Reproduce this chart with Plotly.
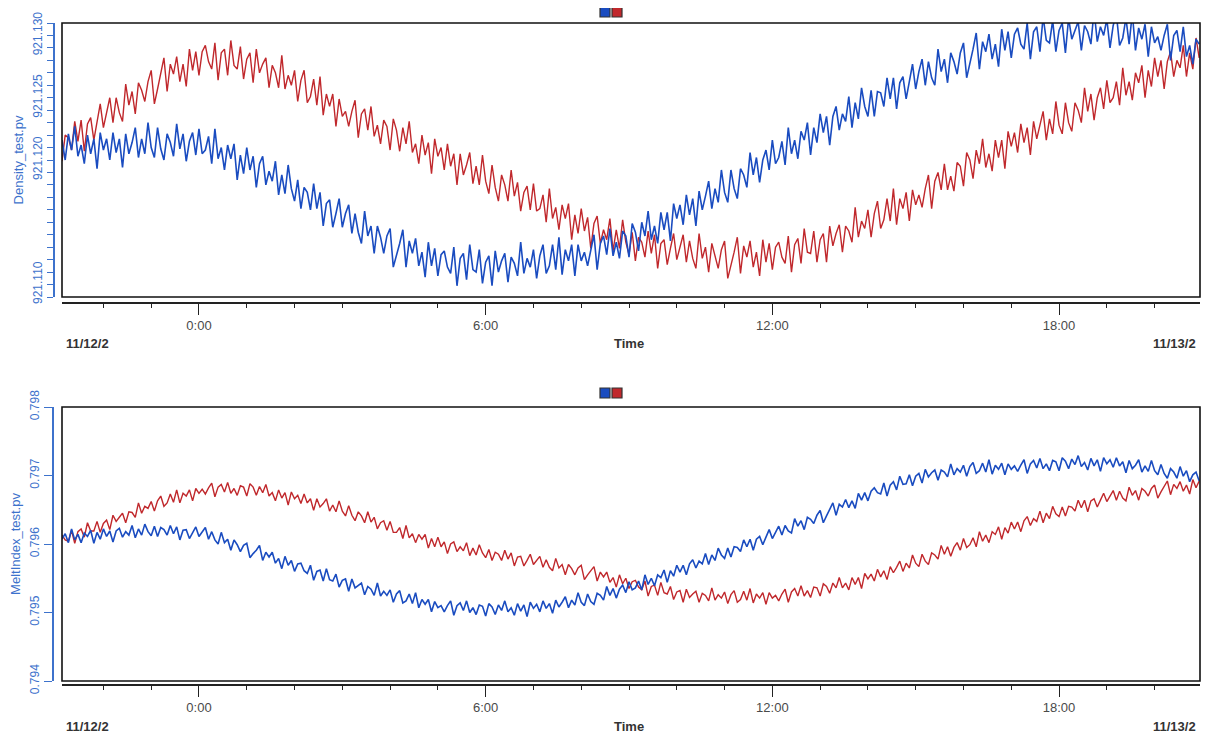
import pandas as pd
import plotly.graph_objects as go

# ---------------- data ----------------
start_time = "2021-11-12 21:08"
sample_minutes = 4
x_range = ["2021-11-12 21:08", "2021-11-13 20:57"]

density_blue = [
    921.1216, 921.1200, 921.1221, 921.1208, 921.1227, 921.1203, 921.1212, 921.1197, 921.1220, 921.1205, 921.1217, 921.1193, 921.1222, 921.1208, 921.1217,
    921.1200, 921.1222, 921.1206, 921.1217, 921.1194, 921.1221, 921.1205, 921.1214, 921.1226, 921.1202, 921.1217, 921.1205, 921.1230, 921.1210, 921.1202,
    921.1226, 921.1209, 921.1200, 921.1221, 921.1214, 921.1203, 921.1229, 921.1209, 921.1221, 921.1199, 921.1215, 921.1222, 921.1204, 921.1225, 921.1205,
    921.1208, 921.1219, 921.1197, 921.1225, 921.1201, 921.1210, 921.1192, 921.1212, 921.1201, 921.1213, 921.1184, 921.1204, 921.1189, 921.1210, 921.1192,
    921.1203, 921.1178, 921.1197, 921.1203, 921.1180, 921.1191, 921.1183, 921.1199, 921.1172, 921.1188, 921.1173, 921.1196, 921.1177, 921.1167, 921.1184,
    921.1161, 921.1178, 921.1174, 921.1160, 921.1181, 921.1161, 921.1174, 921.1147, 921.1165, 921.1168, 921.1146, 921.1157, 921.1169, 921.1146, 921.1157,
    921.1164, 921.1141, 921.1157, 921.1142, 921.1133, 921.1159, 921.1139, 921.1147, 921.1125, 921.1147, 921.1138, 921.1125, 921.1139, 921.1145, 921.1114,
    921.1123, 921.1133, 921.1144, 921.1114, 921.1135, 921.1125, 921.1137, 921.1115, 921.1126, 921.1106, 921.1134, 921.1115, 921.1129, 921.1107, 921.1124,
    921.1127, 921.1114, 921.1109, 921.1130, 921.1099, 921.1121, 921.1125, 921.1104, 921.1132, 921.1112, 921.1110, 921.1128, 921.1101, 921.1118, 921.1123,
    921.1099, 921.1127, 921.1110, 921.1119, 921.1125, 921.1102, 921.1122, 921.1117, 921.1107, 921.1134, 921.1109, 921.1121, 921.1114, 921.1128, 921.1105,
    921.1123, 921.1132, 921.1109, 921.1115, 921.1132, 921.1112, 921.1138, 921.1108, 921.1128, 921.1119, 921.1132, 921.1107, 921.1132, 921.1119, 921.1126,
    921.1115, 921.1129, 921.1140, 921.1112, 921.1133, 921.1139, 921.1124, 921.1145, 921.1123, 921.1134, 921.1121, 921.1143, 921.1139, 921.1122, 921.1149,
    921.1142, 921.1127, 921.1150, 921.1139, 921.1159, 921.1136, 921.1147, 921.1133, 921.1158, 921.1144, 921.1158, 921.1135, 921.1165, 921.1153, 921.1164,
    921.1148, 921.1172, 921.1156, 921.1169, 921.1147, 921.1175, 921.1160, 921.1171, 921.1183, 921.1161, 921.1177, 921.1166, 921.1192, 921.1174, 921.1166,
    921.1192, 921.1177, 921.1169, 921.1193, 921.1188, 921.1178, 921.1206, 921.1188, 921.1202, 921.1182, 921.1200, 921.1208, 921.1192, 921.1216, 921.1197,
    921.1202, 921.1215, 921.1196, 921.1226, 921.1205, 921.1216, 921.1201, 921.1223, 921.1216, 921.1230, 921.1204, 921.1226, 921.1214, 921.1237, 921.1222,
    921.1235, 921.1212, 921.1235, 921.1243, 921.1224, 921.1237, 921.1231, 921.1251, 921.1226, 921.1246, 921.1233, 921.1258, 921.1243, 921.1235, 921.1256,
    921.1235, 921.1255, 921.1254, 921.1243, 921.1266, 921.1249, 921.1266, 921.1241, 921.1262, 921.1267, 921.1249, 921.1263, 921.1277, 921.1257, 921.1271,
    921.1281, 921.1260, 921.1279, 921.1266, 921.1260, 921.1289, 921.1271, 921.1281, 921.1262, 921.1286, 921.1279, 921.1269, 921.1286, 921.1294, 921.1266,
    921.1277, 921.1289, 921.1302, 921.1273, 921.1295, 921.1287, 921.1301, 921.1281, 921.1293, 921.1275, 921.1305, 921.1288, 921.1303, 921.1282, 921.1301,
    921.1306, 921.1293, 921.1289, 921.1310, 921.1281, 921.1303, 921.1307, 921.1287, 921.1315, 921.1296, 921.1294, 921.1312, 921.1287, 921.1304, 921.1310,
    921.1286, 921.1314, 921.1297, 921.1305, 921.1311, 921.1288, 921.1308, 921.1303, 921.1293, 921.1320, 921.1295, 921.1307, 921.1300, 921.1313, 921.1290,
    921.1308, 921.1317, 921.1292, 921.1298, 921.1314, 921.1293, 921.1318, 921.1288, 921.1306, 921.1297, 921.1309, 921.1283, 921.1307, 921.1294, 921.1299,
    921.1288, 921.1300, 921.1309, 921.1280, 921.1300, 921.1304, 921.1287, 921.1307, 921.1283, 921.1292, 921.1277, 921.1297, 921.1293,
]

density_red = [
    921.1199, 921.1220, 921.1218, 921.1208, 921.1231, 921.1215, 921.1232, 921.1207, 921.1229, 921.1234, 921.1216, 921.1231, 921.1245, 921.1226, 921.1239,
    921.1250, 921.1230, 921.1250, 921.1238, 921.1231, 921.1261, 921.1244, 921.1255, 921.1237, 921.1262, 921.1256, 921.1247, 921.1263, 921.1272, 921.1245,
    921.1257, 921.1269, 921.1282, 921.1255, 921.1277, 921.1269, 921.1283, 921.1263, 921.1277, 921.1259, 921.1289, 921.1272, 921.1287, 921.1268, 921.1287,
    921.1292, 921.1279, 921.1273, 921.1294, 921.1264, 921.1286, 921.1289, 921.1268, 921.1296, 921.1276, 921.1273, 921.1291, 921.1265, 921.1281, 921.1286,
    921.1262, 921.1289, 921.1270, 921.1277, 921.1282, 921.1258, 921.1276, 921.1270, 921.1258, 921.1284, 921.1257, 921.1268, 921.1260, 921.1272, 921.1247,
    921.1264, 921.1272, 921.1246, 921.1251, 921.1265, 921.1244, 921.1267, 921.1236, 921.1253, 921.1243, 921.1253, 921.1227, 921.1249, 921.1235, 921.1239,
    921.1227, 921.1239, 921.1248, 921.1218, 921.1237, 921.1241, 921.1224, 921.1243, 921.1219, 921.1228, 921.1213, 921.1232, 921.1227, 921.1208, 921.1233,
    921.1224, 921.1207, 921.1226, 921.1213, 921.1231, 921.1206, 921.1213, 921.1197, 921.1220, 921.1204, 921.1214, 921.1189, 921.1217, 921.1203, 921.1210,
    921.1192, 921.1213, 921.1195, 921.1205, 921.1180, 921.1205, 921.1188, 921.1196, 921.1206, 921.1181, 921.1195, 921.1180, 921.1204, 921.1183, 921.1173,
    921.1196, 921.1178, 921.1167, 921.1188, 921.1180, 921.1167, 921.1192, 921.1171, 921.1182, 921.1159, 921.1174, 921.1179, 921.1160, 921.1181, 921.1159,
    921.1161, 921.1172, 921.1150, 921.1177, 921.1153, 921.1162, 921.1144, 921.1164, 921.1153, 921.1165, 921.1136, 921.1156, 921.1141, 921.1161, 921.1143,
    921.1154, 921.1129, 921.1149, 921.1155, 921.1133, 921.1144, 921.1136, 921.1153, 921.1127, 921.1144, 921.1129, 921.1152, 921.1134, 921.1124, 921.1142,
    921.1119, 921.1138, 921.1134, 921.1122, 921.1143, 921.1125, 921.1140, 921.1113, 921.1133, 921.1136, 921.1116, 921.1129, 921.1141, 921.1120, 921.1131,
    921.1140, 921.1118, 921.1135, 921.1121, 921.1113, 921.1141, 921.1121, 921.1130, 921.1110, 921.1133, 921.1124, 921.1113, 921.1128, 921.1135, 921.1105,
    921.1115, 921.1126, 921.1138, 921.1109, 921.1131, 921.1122, 921.1135, 921.1114, 921.1126, 921.1107, 921.1136, 921.1118, 921.1133, 921.1112, 921.1130,
    921.1134, 921.1122, 921.1117, 921.1139, 921.1110, 921.1132, 921.1137, 921.1117, 921.1145, 921.1126, 921.1125, 921.1143, 921.1118, 921.1136, 921.1141,
    921.1118, 921.1147, 921.1131, 921.1141, 921.1148, 921.1126, 921.1147, 921.1143, 921.1134, 921.1162, 921.1138, 921.1151, 921.1145, 921.1160, 921.1138,
    921.1157, 921.1167, 921.1145, 921.1152, 921.1169, 921.1151, 921.1177, 921.1148, 921.1169, 921.1161, 921.1174, 921.1151, 921.1176, 921.1164, 921.1172,
    921.1162, 921.1177, 921.1188, 921.1161, 921.1183, 921.1190, 921.1176, 921.1197, 921.1176, 921.1187, 921.1175, 921.1198, 921.1195, 921.1179, 921.1206,
    921.1200, 921.1185, 921.1208, 921.1197, 921.1217, 921.1194, 921.1205, 921.1191, 921.1216, 921.1202, 921.1216, 921.1193, 921.1223, 921.1211, 921.1222,
    921.1206, 921.1229, 921.1214, 921.1226, 921.1204, 921.1231, 921.1217, 921.1227, 921.1239, 921.1216, 921.1233, 921.1221, 921.1247, 921.1228, 921.1221,
    921.1246, 921.1230, 921.1223, 921.1246, 921.1240, 921.1230, 921.1258, 921.1239, 921.1253, 921.1232, 921.1250, 921.1258, 921.1241, 921.1264, 921.1246,
    921.1250, 921.1263, 921.1244, 921.1274, 921.1252, 921.1263, 921.1248, 921.1270, 921.1262, 921.1276, 921.1250, 921.1272, 921.1259, 921.1282, 921.1267,
    921.1280, 921.1257, 921.1279, 921.1287, 921.1267, 921.1280, 921.1274, 921.1292, 921.1267, 921.1286, 921.1273, 921.1298, 921.1282,
]

melt_blue = [
    0.79607, 0.79615, 0.79602, 0.79622, 0.79606, 0.79614, 0.79602, 0.79616, 0.79611, 0.79620, 0.79601, 0.79617, 0.79607, 0.79622, 0.79611,
    0.79619, 0.79603, 0.79619, 0.79623, 0.79610, 0.79618, 0.79613, 0.79627, 0.79609, 0.79622, 0.79613, 0.79629, 0.79618, 0.79612, 0.79626,
    0.79611, 0.79624, 0.79621, 0.79613, 0.79627, 0.79615, 0.79625, 0.79606, 0.79620, 0.79621, 0.79608, 0.79617, 0.79625, 0.79611, 0.79617,
    0.79624, 0.79607, 0.79618, 0.79606, 0.79600, 0.79617, 0.79602, 0.79607, 0.79591, 0.79606, 0.79599, 0.79589, 0.79598, 0.79601, 0.79580,
    0.79586, 0.79591, 0.79598, 0.79576, 0.79588, 0.79581, 0.79588, 0.79572, 0.79579, 0.79564, 0.79582, 0.79569, 0.79576, 0.79560, 0.79571,
    0.79572, 0.79561, 0.79557, 0.79569, 0.79547, 0.79560, 0.79562, 0.79546, 0.79564, 0.79548, 0.79546, 0.79556, 0.79537, 0.79547, 0.79549,
    0.79531, 0.79549, 0.79536, 0.79540, 0.79543, 0.79526, 0.79538, 0.79534, 0.79525, 0.79543, 0.79524, 0.79531, 0.79525, 0.79533, 0.79515,
    0.79527, 0.79532, 0.79514, 0.79517, 0.79527, 0.79513, 0.79529, 0.79507, 0.79519, 0.79512, 0.79519, 0.79501, 0.79516, 0.79507, 0.79510,
    0.79501, 0.79510, 0.79517, 0.79496, 0.79510, 0.79514, 0.79503, 0.79517, 0.79500, 0.79507, 0.79497, 0.79511, 0.79509, 0.79495, 0.79513,
    0.79508, 0.79497, 0.79511, 0.79503, 0.79517, 0.79501, 0.79507, 0.79496, 0.79513, 0.79502, 0.79511, 0.79494, 0.79515, 0.79506, 0.79512,
    0.79501, 0.79517, 0.79506, 0.79513, 0.79499, 0.79518, 0.79508, 0.79515, 0.79523, 0.79507, 0.79518, 0.79511, 0.79529, 0.79515, 0.79510,
    0.79527, 0.79516, 0.79512, 0.79528, 0.79525, 0.79518, 0.79538, 0.79525, 0.79535, 0.79521, 0.79534, 0.79540, 0.79529, 0.79545, 0.79533,
    0.79536, 0.79546, 0.79533, 0.79555, 0.79541, 0.79550, 0.79539, 0.79555, 0.79551, 0.79562, 0.79544, 0.79561, 0.79553, 0.79569, 0.79559,
    0.79569, 0.79555, 0.79571, 0.79577, 0.79565, 0.79575, 0.79571, 0.79586, 0.79570, 0.79584, 0.79576, 0.79594, 0.79584, 0.79579, 0.79594,
    0.79581, 0.79596, 0.79595, 0.79589, 0.79606, 0.79596, 0.79607, 0.79591, 0.79607, 0.79611, 0.79599, 0.79610, 0.79621, 0.79608, 0.79617,
    0.79626, 0.79613, 0.79627, 0.79619, 0.79616, 0.79637, 0.79626, 0.79634, 0.79621, 0.79639, 0.79636, 0.79630, 0.79642, 0.79649, 0.79631,
    0.79641, 0.79650, 0.79660, 0.79642, 0.79658, 0.79654, 0.79665, 0.79653, 0.79663, 0.79652, 0.79674, 0.79664, 0.79675, 0.79663, 0.79677,
    0.79682, 0.79675, 0.79673, 0.79689, 0.79670, 0.79686, 0.79691, 0.79679, 0.79699, 0.79687, 0.79688, 0.79701, 0.79685, 0.79699, 0.79703,
    0.79689, 0.79709, 0.79698, 0.79704, 0.79708, 0.79693, 0.79708, 0.79705, 0.79698, 0.79717, 0.79701, 0.79710, 0.79705, 0.79715, 0.79699,
    0.79713, 0.79719, 0.79703, 0.79707, 0.79718, 0.79705, 0.79723, 0.79702, 0.79715, 0.79709, 0.79718, 0.79701, 0.79717, 0.79709, 0.79714,
    0.79706, 0.79715, 0.79723, 0.79703, 0.79717, 0.79722, 0.79711, 0.79725, 0.79710, 0.79717, 0.79707, 0.79722, 0.79720, 0.79707, 0.79726,
    0.79721, 0.79710, 0.79724, 0.79716, 0.79729, 0.79713, 0.79719, 0.79708, 0.79725, 0.79714, 0.79723, 0.79706, 0.79726, 0.79717, 0.79723,
    0.79712, 0.79726, 0.79714, 0.79720, 0.79704, 0.79722, 0.79710, 0.79715, 0.79723, 0.79705, 0.79714, 0.79706, 0.79722, 0.79707, 0.79701,
    0.79716, 0.79703, 0.79696, 0.79710, 0.79705, 0.79696, 0.79713, 0.79699, 0.79707, 0.79691, 0.79701, 0.79705, 0.79692,
]

melt_red = [
    0.79613, 0.79606, 0.79604, 0.79620, 0.79601, 0.79618, 0.79622, 0.79610, 0.79631, 0.79619, 0.79619, 0.79633, 0.79617, 0.79630, 0.79635,
    0.79621, 0.79642, 0.79633, 0.79639, 0.79645, 0.79631, 0.79647, 0.79646, 0.79639, 0.79660, 0.79645, 0.79655, 0.79652, 0.79662, 0.79648,
    0.79663, 0.79670, 0.79655, 0.79660, 0.79673, 0.79661, 0.79679, 0.79660, 0.79674, 0.79670, 0.79679, 0.79663, 0.79681, 0.79674, 0.79680,
    0.79673, 0.79682, 0.79689, 0.79669, 0.79683, 0.79687, 0.79676, 0.79690, 0.79674, 0.79681, 0.79671, 0.79685, 0.79683, 0.79670, 0.79688,
    0.79683, 0.79671, 0.79684, 0.79675, 0.79687, 0.79670, 0.79675, 0.79663, 0.79679, 0.79667, 0.79675, 0.79657, 0.79676, 0.79666, 0.79671,
    0.79659, 0.79673, 0.79660, 0.79666, 0.79649, 0.79666, 0.79654, 0.79659, 0.79666, 0.79648, 0.79657, 0.79647, 0.79663, 0.79648, 0.79641,
    0.79656, 0.79642, 0.79634, 0.79647, 0.79641, 0.79631, 0.79647, 0.79632, 0.79639, 0.79622, 0.79631, 0.79634, 0.79620, 0.79633, 0.79617,
    0.79617, 0.79624, 0.79608, 0.79627, 0.79609, 0.79615, 0.79602, 0.79614, 0.79607, 0.79614, 0.79594, 0.79608, 0.79596, 0.79610, 0.79596,
    0.79603, 0.79586, 0.79600, 0.79603, 0.79589, 0.79596, 0.79590, 0.79602, 0.79583, 0.79594, 0.79584, 0.79599, 0.79587, 0.79580, 0.79592,
    0.79576, 0.79588, 0.79585, 0.79576, 0.79591, 0.79578, 0.79587, 0.79568, 0.79581, 0.79582, 0.79568, 0.79576, 0.79585, 0.79570, 0.79576,
    0.79582, 0.79566, 0.79577, 0.79566, 0.79561, 0.79579, 0.79565, 0.79570, 0.79555, 0.79570, 0.79564, 0.79555, 0.79565, 0.79569, 0.79548,
    0.79555, 0.79561, 0.79567, 0.79546, 0.79559, 0.79552, 0.79559, 0.79544, 0.79551, 0.79537, 0.79555, 0.79542, 0.79550, 0.79535, 0.79545,
    0.79547, 0.79537, 0.79533, 0.79546, 0.79524, 0.79538, 0.79540, 0.79525, 0.79544, 0.79529, 0.79527, 0.79538, 0.79519, 0.79530, 0.79532,
    0.79515, 0.79534, 0.79522, 0.79527, 0.79531, 0.79515, 0.79528, 0.79525, 0.79517, 0.79536, 0.79518, 0.79526, 0.79521, 0.79530, 0.79513,
    0.79526, 0.79532, 0.79515, 0.79519, 0.79531, 0.79518, 0.79535, 0.79514, 0.79527, 0.79521, 0.79529, 0.79512, 0.79529, 0.79521, 0.79525,
    0.79517, 0.79527, 0.79534, 0.79515, 0.79530, 0.79535, 0.79524, 0.79539, 0.79524, 0.79532, 0.79522, 0.79537, 0.79536, 0.79524, 0.79542,
    0.79538, 0.79528, 0.79543, 0.79536, 0.79551, 0.79536, 0.79543, 0.79533, 0.79551, 0.79541, 0.79551, 0.79535, 0.79557, 0.79549, 0.79556,
    0.79546, 0.79563, 0.79552, 0.79561, 0.79548, 0.79567, 0.79558, 0.79566, 0.79575, 0.79560, 0.79572, 0.79565, 0.79584, 0.79572, 0.79567,
    0.79585, 0.79575, 0.79570, 0.79587, 0.79584, 0.79578, 0.79598, 0.79585, 0.79596, 0.79582, 0.79595, 0.79602, 0.79591, 0.79608, 0.79595,
    0.79599, 0.79609, 0.79596, 0.79618, 0.79604, 0.79613, 0.79602, 0.79618, 0.79614, 0.79625, 0.79607, 0.79624, 0.79616, 0.79632, 0.79622,
    0.79632, 0.79618, 0.79634, 0.79640, 0.79627, 0.79637, 0.79633, 0.79648, 0.79631, 0.79645, 0.79637, 0.79655, 0.79644, 0.79640, 0.79654,
    0.79641, 0.79655, 0.79654, 0.79648, 0.79664, 0.79653, 0.79664, 0.79647, 0.79663, 0.79666, 0.79654, 0.79664, 0.79674, 0.79662, 0.79670,
    0.79678, 0.79664, 0.79677, 0.79667, 0.79663, 0.79683, 0.79671, 0.79678, 0.79664, 0.79681, 0.79677, 0.79670, 0.79681, 0.79686, 0.79667,
    0.79676, 0.79683, 0.79692, 0.79672, 0.79687, 0.79681, 0.79691, 0.79677, 0.79686, 0.79673, 0.79694, 0.79682, 0.79692,
]

density_ticks = [round(921.109 + 0.001 * i, 3) for i in range(23)]
density_labels = {921.110: "921.110", 921.120: "921.120", 921.125: "921.125", 921.130: "921.130"}
melt_ticks = [0.794, 0.795, 0.796, 0.797, 0.798]
melt_labels = ["0.794", "0.795", "0.796", "0.797", "0.798"]
density_title = "Density_test.pv"
melt_title = "MeltIndex_test.pv"
start_label = "11/12/2"
end_label = "11/13/2"
x_title = "Time"

# ---------------- figure ----------------
times = pd.date_range(start_time, periods=len(density_blue), freq=f"{sample_minutes}min")

BLUE = "#1a4cc0"
RED = "#c0282c"
AXBLUE = "#3d72cc"
# the page body keeps its default 8px margin, so the figure is drawn 8px in
OFF = 8
W, H = 1212 - OFF, 738 - OFF

def px(xp):
    return (xp - OFF) / W

def py(yp):
    return 1 - (yp - OFF) / H

fig = go.Figure()
fig.add_trace(go.Scatter(x=times, y=density_red, mode="lines", line=dict(color=RED, width=1.4),
                         xaxis="x", yaxis="y", showlegend=False))
fig.add_trace(go.Scatter(x=times, y=density_blue, mode="lines", line=dict(color=BLUE, width=1.6),
                         xaxis="x", yaxis="y", showlegend=False))
fig.add_trace(go.Scatter(x=times, y=melt_red, mode="lines", line=dict(color=RED, width=1.4),
                         xaxis="x2", yaxis="y2", showlegend=False))
fig.add_trace(go.Scatter(x=times, y=melt_blue, mode="lines", line=dict(color=BLUE, width=1.6),
                         xaxis="x2", yaxis="y2", showlegend=False))

xdom = [px(62), px(1200)]
tickfont = dict(family="Liberation Sans, Arial, sans-serif", size=13, color="#4a4a4a")

def xaxis_cfg(pos):
    return dict(domain=xdom, anchor="free", position=pos, range=x_range, type="date",
                automargin=False,
                showline=True, linecolor="#222", linewidth=1.5, showgrid=False, zeroline=False,
                ticks="outside", ticklen=11, tickwidth=1.2, tickcolor="#222",
                tick0="2021-11-13 00:00", dtick=6 * 3600 * 1000, tickformat="%-H:%M",
                tickfont=tickfont,
                minor=dict(ticks="outside", ticklen=4, tickcolor="#222", dtick=3600 * 1000,
                           tick0="2021-11-13 00:00", showgrid=False))

yfont = dict(family="Liberation Sans, Arial, sans-serif", size=12, color=AXBLUE)
titlefont = dict(family="Liberation Sans, Arial, sans-serif", size=13, color=AXBLUE)

fig.update_layout(
    width=W, height=H, margin=dict(l=0, r=0, t=0, b=0),
    paper_bgcolor="white", plot_bgcolor="white",
    xaxis=xaxis_cfg(py(303)),
    xaxis2=xaxis_cfg(py(685)),
    yaxis=dict(domain=[py(297), py(23)], anchor="free", position=px(54), automargin=False,
               range=[921.109, 921.131], showline=True, linecolor=AXBLUE, linewidth=1.5,
               showgrid=False, zeroline=False, ticks="outside", ticklen=6, tickcolor=AXBLUE,
               tickmode="array", tickvals=density_ticks,
               ticktext=[density_labels.get(t, "") for t in density_ticks],
               tickangle=-90, tickfont=yfont,
               title=dict(text=density_title, font=titlefont, standoff=4)),
    yaxis2=dict(domain=[py(681), py(407)], anchor="free", position=px(53), automargin=False,
                range=[0.794, 0.798], showline=True, linecolor=AXBLUE, linewidth=1.5,
                showgrid=False, zeroline=False, ticks="outside", ticklen=8, tickcolor=AXBLUE,
                tickmode="array", tickvals=melt_ticks, ticktext=melt_labels,
                tickangle=-90, tickfont=yfont,
                title=dict(text=melt_title, font=titlefont, standoff=4)),
)

# plot frames
for xr, yr in (("x domain", "y domain"), ("x2 domain", "y2 domain")):
    fig.add_shape(type="rect", xref=xr, yref=yr, x0=0, x1=1, y0=0, y1=1,
                  line=dict(color="#111", width=1.6), fillcolor="rgba(0,0,0,0)", layer="above")

# legend swatches
for top in (7, 388):
    for x0, col in ((600, BLUE), (612, RED)):
        fig.add_shape(type="rect", xref="paper", yref="paper",
                      x0=px(x0), x1=px(x0 + 10), y0=py(top + 10), y1=py(top),
                      line=dict(color="#333", width=1.2), fillcolor=col)

# date and axis-title labels
lab_font = dict(family="Liberation Sans, Arial, sans-serif", size=13, color="#333")
for yl in (343, 726):
    fig.add_annotation(text=f"<b>{start_label}</b>", x=px(64), y=py(yl), xref="paper", yref="paper",
                       xanchor="left", yanchor="middle", showarrow=False, font=lab_font)
    fig.add_annotation(text=f"<b>{end_label}</b>", x=px(1198), y=py(yl), xref="paper", yref="paper",
                       xanchor="right", yanchor="middle", showarrow=False, font=lab_font)
    fig.add_annotation(text=f"<b>{x_title}</b>", x=px(629), y=py(yl), xref="paper", yref="paper",
                       xanchor="center", yanchor="middle", showarrow=False, font=lab_font)

fig.write_html("out.html")
